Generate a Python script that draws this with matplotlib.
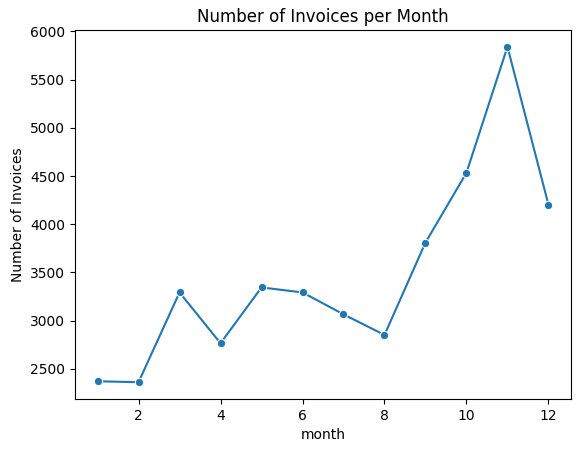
import matplotlib
matplotlib.use('Agg')
import matplotlib.pyplot as plt
import seaborn as sns
import pandas as pd

# invoices per month
months = [1, 2, 3, 4, 5, 6, 7, 8, 9, 10, 11, 12]
invoices = [2372, 2362, 3293, 2766, 3345, 3293, 3066, 2852, 3810, 4534, 5840, 4203]

df = pd.DataFrame({'month': months, 'invoices': invoices})

fig = plt.figure(figsize=(5.8, 4.53), dpi=100)
ax = fig.add_axes([75/580, 1 - 399/453, 496/580, 369/453])
sns.lineplot(data=df, x='month', y='invoices', marker='o', ax=ax)
ax.set_title('Number of Invoices per Month')
ax.set_xlabel('month')
ax.set_ylabel('Number of Invoices')

fig.savefig('out.png', dpi=100)
